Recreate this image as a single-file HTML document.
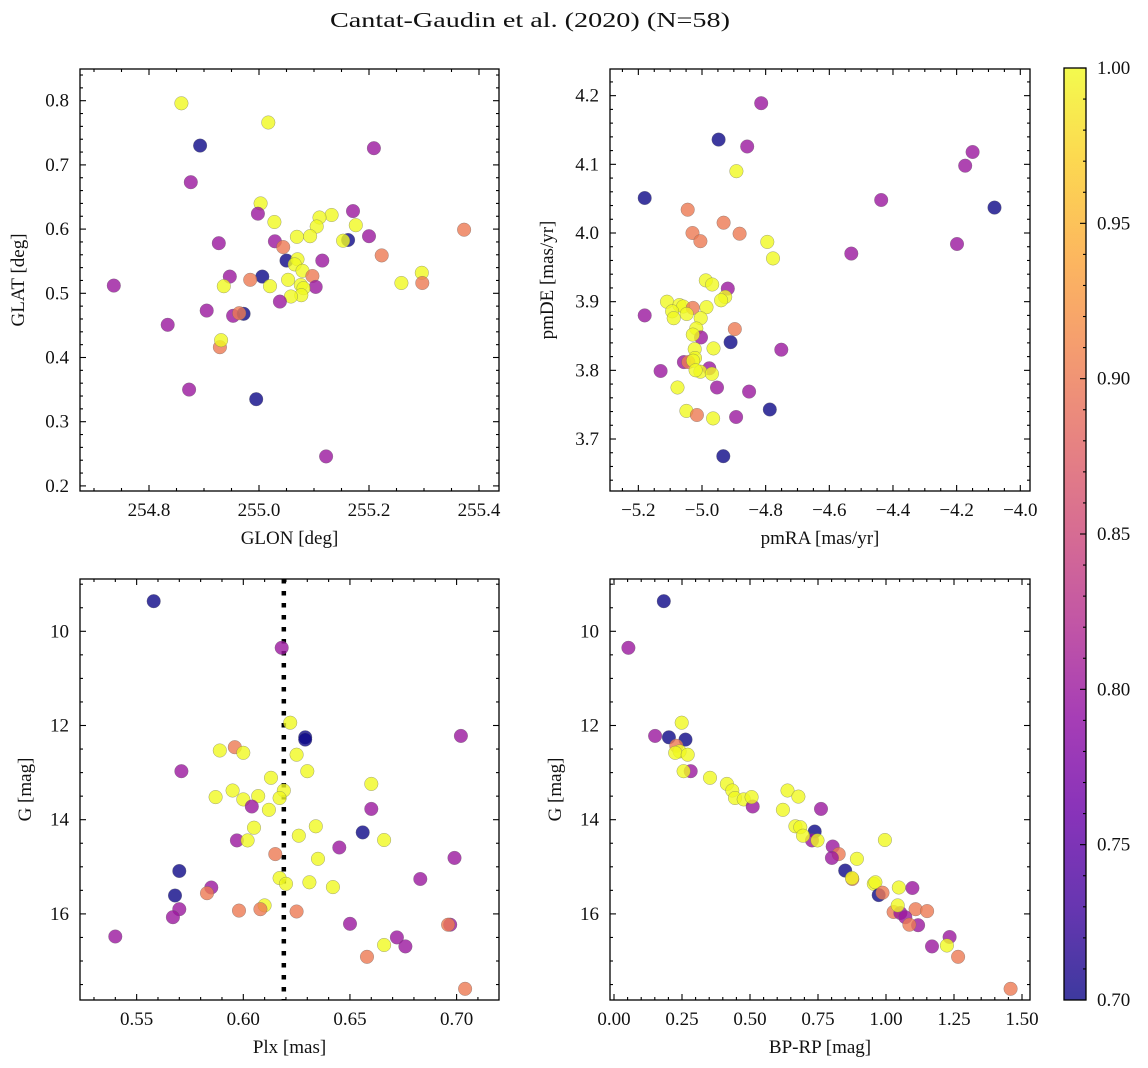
<!DOCTYPE html>
<html><head><meta charset="utf-8">
<style>
html,body{margin:0;padding:0;background:#fff;}
svg{display:block;font-family:"Liberation Serif","DejaVu Serif",serif;}
</style></head>
<body>
<svg id="fig" width="1148" height="1068" viewBox="0 0 1148 1068" xmlns="http://www.w3.org/2000/svg">
<rect width="1148" height="1068" fill="#fff"/>
<text x="530" y="27" font-size="21" text-anchor="middle" fill="#111" textLength="400" lengthAdjust="spacingAndGlyphs">Cantat-Gaudin et al. (2020) (N=58)</text>
<defs>
<linearGradient id="plasma" x1="0" y1="1" x2="0" y2="0">
<stop offset="0" stop-color="#0d0887"/><stop offset="0.1" stop-color="#41049d"/><stop offset="0.2" stop-color="#6a00a8"/><stop offset="0.3" stop-color="#8f0da4"/><stop offset="0.4" stop-color="#b12a90"/><stop offset="0.5" stop-color="#cc4778"/><stop offset="0.6" stop-color="#e16462"/><stop offset="0.7" stop-color="#f2844b"/><stop offset="0.8" stop-color="#fca636"/><stop offset="0.9" stop-color="#fcce25"/><stop offset="1" stop-color="#f0f921"/>
</linearGradient>
</defs>
<g id="layer"></g>
</svg>
<script>
// ---- Panel 1: GLON / GLAT ----
const glon = [254.859,255.017,254.893,255.209,254.876,255.003,254.998,255.028,255.132,255.110,255.171,255.105,255.176,255.373,255.069,255.093,255.200,255.162,255.153,254.927,255.029,255.044,255.223,255.050,255.070,255.065,255.115,255.079,255.097,254.947,255.006,254.984,255.053,255.296,255.297,255.259,254.736,254.936,255.020,255.103,255.076,255.081,255.077,255.058,255.038,254.905,254.953,254.972,254.964,254.834,254.929,254.931,254.873,254.995,255.122];
const glat = [0.796,0.766,0.730,0.726,0.673,0.640,0.624,0.611,0.622,0.618,0.628,0.604,0.606,0.599,0.588,0.589,0.589,0.583,0.582,0.578,0.581,0.572,0.559,0.551,0.553,0.545,0.551,0.535,0.527,0.526,0.526,0.521,0.521,0.532,0.516,0.516,0.512,0.511,0.511,0.510,0.513,0.508,0.497,0.495,0.487,0.473,0.465,0.468,0.469,0.451,0.416,0.427,0.350,0.335,0.246];
const prob1 = [1,1,0.7,0.8,0.8,1,0.8,1,1,1,0.8,1,1,0.9,1,1,0.8,0.7,1,0.8,0.8,0.9,0.9,0.7,1,1,0.8,1,0.9,0.8,0.7,0.9,1,1,0.9,1,0.8,1,1,0.8,1,1,1,1,0.8,0.8,0.8,0.7,0.9,0.8,0.9,1,0.8,0.7,0.8];
// ---- Panel 2: pmRA / pmDE ----
const pmra = [-4.814,-4.948,-4.858,-4.150,-4.173,-4.892,-5.180,-4.437,-4.081,-5.045,-4.932,-5.030,-4.882,-5.005,-4.795,-4.199,-4.531,-4.777,-4.988,-4.968,-4.919,-4.927,-4.940,-5.110,-5.071,-5.059,-5.029,-4.986,-5.094,-5.048,-5.180,-5.089,-5.004,-4.897,-5.018,-5.003,-5.029,-4.910,-4.964,-4.751,-5.023,-5.022,-5.057,-5.043,-5.028,-4.977,-5.005,-5.020,-4.969,-5.130,-5.077,-4.953,-4.852,-4.787,-5.049,-5.016,-4.965,-4.893,-4.933];
const pmde = [4.189,4.136,4.126,4.118,4.098,4.090,4.051,4.048,4.037,4.034,4.015,4.000,3.999,3.988,3.987,3.984,3.970,3.963,3.931,3.925,3.919,3.907,3.902,3.900,3.895,3.893,3.891,3.892,3.886,3.882,3.880,3.876,3.876,3.860,3.861,3.848,3.852,3.841,3.832,3.830,3.831,3.818,3.812,3.812,3.814,3.803,3.798,3.800,3.795,3.799,3.775,3.775,3.769,3.743,3.741,3.735,3.730,3.732,3.675];
const prob2 = [0.8,0.7,0.8,0.8,0.8,1,0.7,0.8,0.7,0.9,0.9,0.9,0.9,0.9,1,0.8,0.8,1,1,1,0.8,1,1,1,1,1,0.9,1,1,1,0.8,1,1,0.9,1,0.8,1,0.7,1,0.8,1,1,0.8,0.9,1,0.8,1,1,1,0.8,1,0.8,0.8,0.7,1,0.9,1,0.8,0.7];
// ---- Panel 3: Plx / G ----
const plx = [0.558,0.618,0.622,0.629,0.629,0.702,0.596,0.589,0.600,0.625,0.571,0.630,0.613,0.660,0.619,0.595,0.587,0.607,0.600,0.617,0.604,0.612,0.660,0.634,0.605,0.656,0.626,0.597,0.602,0.666,0.645,0.615,0.635,0.699,0.570,0.617,0.620,0.631,0.642,0.683,0.585,0.583,0.568,0.570,0.567,0.610,0.608,0.598,0.625,0.650,0.697,0.696,0.540,0.672,0.666,0.676,0.658,0.704];
const gmag3 = [9.36,10.35,11.94,12.25,12.30,12.22,12.46,12.53,12.58,12.62,12.97,12.97,13.11,13.24,13.38,13.38,13.52,13.50,13.57,13.54,13.72,13.79,13.77,14.14,14.17,14.27,14.34,14.44,14.44,14.43,14.59,14.73,14.83,14.81,15.09,15.24,15.36,15.33,15.43,15.26,15.44,15.56,15.61,15.90,16.07,15.82,15.90,15.93,15.95,16.21,16.23,16.23,16.48,16.50,16.66,16.69,16.91,17.59];
const prob3 = [0.7,0.8,1,0.7,0.7,0.8,0.9,1,1,1,0.8,1,1,1,1,1,1,1,1,1,0.8,1,0.8,1,1,0.7,1,0.8,1,1,0.8,0.9,1,0.8,0.7,1,1,1,1,0.8,0.8,0.9,0.7,0.8,0.8,1,0.9,0.9,0.9,0.8,0.8,0.9,0.8,0.8,1,0.8,0.9,0.9];
const plxRef = 0.619;
// ---- Panel 4: BP-RP / G ----
const bprp = [0.183,0.053,0.249,0.151,0.202,0.263,0.229,0.241,0.225,0.271,0.282,0.256,0.353,0.415,0.435,0.445,0.477,0.510,0.506,0.638,0.678,0.621,0.761,0.667,0.685,0.738,0.728,0.695,0.748,0.804,0.826,0.801,0.996,0.893,0.850,0.876,0.875,0.955,0.961,0.973,0.987,1.047,1.097,1.028,1.053,1.043,1.109,1.151,1.071,1.118,1.086,1.234,1.224,1.169,1.265,1.458];
const gmag4 = [9.36,10.35,11.94,12.22,12.25,12.30,12.43,12.55,12.58,12.62,12.97,12.97,13.11,13.24,13.38,13.54,13.57,13.72,13.52,13.38,13.51,13.79,13.77,14.14,14.16,14.25,14.44,14.34,14.44,14.57,14.73,14.81,14.43,14.83,15.08,15.26,15.24,15.36,15.33,15.60,15.55,15.44,15.45,15.96,15.98,15.82,15.90,15.94,16.07,16.24,16.23,16.49,16.67,16.69,16.91,17.59];
const prob4 = [0.7,0.8,1,0.8,0.7,0.7,0.9,1,1,1,0.8,1,1,1,1,1,1,0.8,1,1,1,1,0.8,1,1,0.7,0.8,1,1,0.8,0.9,0.8,1,1,0.7,0.9,1,1,1,0.7,0.9,1,0.8,0.9,0.8,1,0.9,0.9,0.8,0.8,0.9,0.8,1,0.8,0.9,0.9];
const cbTicks = [0.70,0.75,0.80,0.85,0.90,0.95,1.00];

const NS = "http://www.w3.org/2000/svg";
const layer = document.getElementById('layer');
const FS = 19;
function mk(tag, attrs, parent){const e=document.createElementNS(NS,tag);for(const k in attrs)e.setAttribute(k,attrs[k]);(parent||layer).appendChild(e);return e;}

const stops=[[13,8,135],[65,4,157],[106,0,168],[143,13,164],[177,42,144],[204,71,120],[225,100,98],[242,132,75],[252,166,54],[252,206,37],[240,249,33]];
function plasma(t){t=Math.max(0,Math.min(1,t));const f=t*10,i=Math.min(9,Math.floor(f)),r=f-i;const a=stops[i],b=stops[i+1];return 'rgb('+a.map((v,j)=>Math.round(v+(b[j]-v)*r)).join(',')+')';}
function pcol(p){return plasma((p-0.7)/0.3);}

function panel(cfg){
  const {L,R,T,B,xmin,xmax,ymin,ymax,inv,xs,ys,ps,xMaj,xMin,yMaj,yMin,xfmt,yfmt,xlabel,ylabel,name,ylabX}=cfg;
  const X=v=>L+(v-xmin)/(xmax-xmin)*(R-L);
  const Y=v=>inv? T+(v-ymin)/(ymax-ymin)*(B-T) : B-(v-ymin)/(ymax-ymin)*(B-T);
  const g=mk('g',{});
  
  
  const clipId='clip-'+name;
  const cp=mk('clipPath',{id:clipId},g);mk('rect',{x:L,y:T,width:R-L,height:B-T},cp);
  const pts=mk('g',{'clip-path':'url(#'+clipId+')'},g);
  if(cfg.vline!==undefined){
    const vl=mk('line',{x1:X(cfg.vline),x2:X(cfg.vline),y1:T,y2:B,stroke:'#000','stroke-width':4.5,'stroke-dasharray':'4.5 7.5'},pts);
    
    
  }
  for(let i=0;i<xs.length;i++){
    const c=mk('circle',{cx:X(xs[i]).toFixed(1),cy:Y(ys[i]).toFixed(1),r:6.8,fill:pcol(ps[i]),'fill-opacity':0.8,stroke:'#666','stroke-opacity':0.6,'stroke-width':0.5},pts);
    
    
  }
  const tk=mk('g',{stroke:'#000','stroke-width':1.1},g);
  const lab=mk('g',{'font-size':FS,fill:'#111'},g);
  const eps=1e-9;
  const lo=Math.min(xmin,xmax),hi=Math.max(xmin,xmax);
  for(let v=Math.ceil(lo/xMin-eps)*xMin;v<=hi+eps;v+=xMin){
    const major=Math.abs(v/xMaj-Math.round(v/xMaj))<1e-4;const len=major?6:3;const x=X(v);
    if(x<L-0.5||x>R+0.5)continue;
    mk('line',{x1:x,x2:x,y1:B,y2:B-len},tk);mk('line',{x1:x,x2:x,y1:T,y2:T+len},tk);
    if(major){const t=mk('text',{x:x,y:B+25,'text-anchor':'middle'},lab);t.textContent=xfmt(v);
      
      }
  }
  for(let v=Math.ceil(ymin/yMin-eps)*yMin;v<=ymax+eps;v+=yMin){
    const major=Math.abs(v/yMaj-Math.round(v/yMaj))<1e-4;const len=major?6:3;const y=Y(v);
    if(y<T-0.5||y>B+0.5)continue;
    mk('line',{x1:L,x2:L+len,y1:y,y2:y},tk);mk('line',{x1:R,x2:R-len,y1:y,y2:y},tk);
    if(major){const t=mk('text',{x:L-11,y:y+6,'text-anchor':'end'},lab);t.textContent=yfmt(v);
      
      }
  }
  const fr=mk('rect',{x:L,y:T,width:R-L,height:B-T,fill:'none',stroke:'#000','stroke-width':1.3},g);
  
  
  const xl=mk('text',{x:(L+R)/2,y:B+53,'text-anchor':'middle','font-size':FS,fill:'#111'},g);xl.textContent=xlabel;
  
  
  const yl=mk('text',{x:ylabX,y:(T+B)/2,'text-anchor':'middle','font-size':FS,fill:'#111',transform:'rotate(-90 '+ylabX+' '+((T+B)/2)+')'},g);yl.textContent=ylabel;
  
  
}
const m=s=>s.replace('-','\u2212');
panel({name:'panel-glon-glat',L:80,R:499,T:69,B:491,xmin:255+(80-259)/550,xmax:255+(499-259)/550,ymin:0.8-(491-100.7)/642,ymax:0.8-(69-100.7)/642,
  xs:glon,ys:glat,ps:prob1,xMaj:0.2,xMin:0.05,yMaj:0.1,yMin:0.02,xfmt:v=>v.toFixed(1),yfmt:v=>v.toFixed(1),xlabel:'GLON [deg]',ylabel:'GLAT [deg]',ylabX:24});
panel({name:'panel-pm',L:610,R:1030,T:69,B:491,xmin:-5+(610-702)/318.3,xmax:-5+(1030-702)/318.3,ymin:4-(491-233)/686.7,ymax:4-(69-233)/686.7,
  xs:pmra,ys:pmde,ps:prob2,xMaj:0.2,xMin:0.05,yMaj:0.1,yMin:0.02,xfmt:v=>m(v.toFixed(1)),yfmt:v=>v.toFixed(1),xlabel:'pmRA [mas/yr]',ylabel:'pmDE [mas/yr]',ylabX:553});
panel({name:'panel-plx-g',L:80,R:499,T:579,B:1000,xmin:0.6+(80-243.3)/2133,xmax:0.6+(499-243.3)/2133,ymin:10+(579-631.3)/47.1,ymax:10+(1000-631.3)/47.1,inv:true,
  xs:plx,ys:gmag3,ps:prob3,vline:plxRef,xMaj:0.05,xMin:0.01,yMaj:2,yMin:0.5,xfmt:v=>v.toFixed(2),yfmt:v=>String(Math.round(v)),xlabel:'Plx [mas]',ylabel:'G [mag]',ylabX:31});
panel({name:'panel-cmd',L:610,R:1030,T:579,B:1000,xmin:0.25+(610-682)/272,xmax:0.25+(1030-682)/272,ymin:10+(579-631.3)/47.1,ymax:10+(1000-631.3)/47.1,inv:true,
  xs:bprp,ys:gmag4,ps:prob4,xMaj:0.25,xMin:0.05,yMaj:2,yMin:0.5,xfmt:v=>v.toFixed(2),yfmt:v=>String(Math.round(v)),xlabel:'BP-RP [mag]',ylabel:'G [mag]',ylabX:561});

(function(){
  const L=1064,R=1086,T=68,B=1000;
  const g=mk('g',{});
  
  
  mk('rect',{x:L,y:T,width:R-L,height:B-T,fill:'url(#plasma)','fill-opacity':0.8},g);
  mk('rect',{x:L,y:T,width:R-L,height:B-T,fill:'none',stroke:'#000','stroke-width':1.3},g);
  const Y=v=>B-(v-0.7)/0.3*(B-T);
  for(let k=70;k<=100;k++){
    const v=k/100,major=k%5===0,y=Y(v);
    mk('line',{x1:R,x2:R-(major?6:3),y1:y,y2:y,stroke:'#000','stroke-width':1.1},g);
  }
  cbTicks.forEach(v=>{const t=mk('text',{x:R+11,y:Y(v)+6,'font-size':FS,fill:'#111'},g);t.textContent=v.toFixed(2);
    
    });
})();
</script>
</body></html>
